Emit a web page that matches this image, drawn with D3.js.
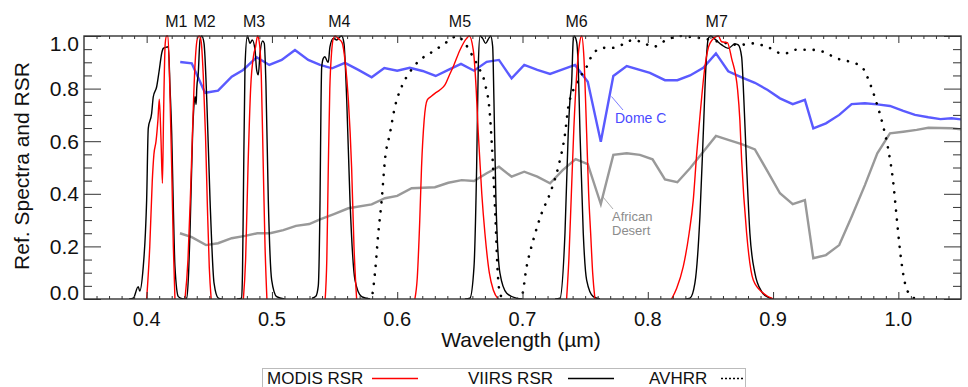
<!DOCTYPE html>
<html>
<head>
<meta charset="utf-8">
<script src="https://cdn.jsdelivr.net/npm/d3@7"></script>
<style>
  body { margin: 0; background: #fff; }
  svg { display: block; font-family: "Liberation Sans", Arial, sans-serif; }
</style>
</head>
<body>
<svg id="chart" width="968" height="387"></svg>
<script>
// band labels above the frame (wavelength of label centre)
const bandNames = ["M1", "M2", "M3", "M4", "M5", "M6", "M7"];
const bandLabelX = [0.4237, 0.4463, 0.4857, 0.5538, 0.6501, 0.7432, 0.8550];

const xTicks = [0.4, 0.5, 0.6, 0.7, 0.8, 0.9, 1.0];
const yTicks = [0, 0.2, 0.4, 0.6, 0.8, 1.0];

// reference spectra [wavelength um, reflectance]
const domeC = [[0.4268,0.901],[0.436,0.896],[0.4466,0.784],[0.457,0.792],[0.4679,0.845],[0.477,0.871],[0.4878,0.919],[0.4979,0.890],[0.5078,0.909],[0.5184,0.947],[0.529,0.909],[0.5384,0.890],[0.548,0.877],[0.5583,0.898],[0.569,0.871],[0.5796,0.843],[0.5897,0.878],[0.600,0.868],[0.610,0.879],[0.6203,0.867],[0.6307,0.848],[0.6408,0.871],[0.6509,0.894],[0.6613,0.868],[0.6714,0.902],[0.6812,0.909],[0.6913,0.839],[0.7014,0.890],[0.7118,0.871],[0.722,0.856],[0.7321,0.873],[0.7419,0.890],[0.7521,0.826],[0.7625,0.598],[0.7725,0.848],[0.7832,0.886],[0.8017,0.860],[0.8137,0.832],[0.8236,0.832],[0.8337,0.850],[0.8443,0.879],[0.8544,0.934],[0.8642,0.866],[0.8749,0.843],[0.8855,0.822],[0.8957,0.795],[0.9055,0.763],[0.9157,0.741],[0.9254,0.757],[0.9321,0.649],[0.9422,0.668],[0.9528,0.700],[0.9627,0.741],[0.9733,0.744],[0.9832,0.740],[0.9933,0.734],[1.0039,0.715],[1.0133,0.700],[1.0239,0.691],[1.0336,0.684],[1.0425,0.687],[1.05,0.683]];
const africanDesert = [[0.4266,0.250],[0.436,0.235],[0.4474,0.205],[0.457,0.212],[0.4679,0.231],[0.4785,0.240],[0.4883,0.250],[0.4985,0.250],[0.5091,0.262],[0.5192,0.278],[0.5298,0.285],[0.5384,0.303],[0.5495,0.323],[0.561,0.345],[0.5796,0.360],[0.5902,0.383],[0.600,0.392],[0.6115,0.421],[0.6301,0.425],[0.6408,0.442],[0.6515,0.452],[0.6613,0.449],[0.6714,0.478],[0.6812,0.503],[0.6913,0.465],[0.7014,0.484],[0.7118,0.465],[0.722,0.440],[0.7321,0.490],[0.7424,0.532],[0.7521,0.513],[0.7625,0.361],[0.7725,0.548],[0.7832,0.554],[0.7937,0.548],[0.8038,0.531],[0.8137,0.455],[0.8236,0.444],[0.8337,0.497],[0.8443,0.560],[0.8544,0.620],[0.8642,0.605],[0.8749,0.589],[0.8855,0.569],[0.8957,0.484],[0.9055,0.402],[0.9157,0.361],[0.9254,0.376],[0.9321,0.155],[0.9422,0.167],[0.9528,0.205],[0.9627,0.313],[0.9733,0.433],[0.9832,0.554],[0.9933,0.630],[1.0039,0.636],[1.0146,0.643],[1.024,0.651],[1.0425,0.649],[1.05,0.645]];

// MODIS RSR bands
const modisB8 = [[0.4000,0],[0.4025,0.2],[0.4045,0.45],[0.4058,0.55],[0.4075,0.6],[0.4090,0.68],[0.4101,0.76],[0.4115,0.6],[0.4126,0.44],[0.4135,0.7],[0.4148,0.97],[0.4158,1.0],[0.4170,1.0],[0.4185,0.8],[0.4200,0.5],[0.4213,0.2],[0.4226,0]];
const modisB9 = [[0.4306,0],[0.4330,0.15],[0.4350,0.40],[0.4365,0.62],[0.4385,0.88],[0.4405,0.99],[0.4420,1.0],[0.4435,0.98],[0.4452,0.85],[0.4470,0.62],[0.4485,0.35],[0.4500,0.12],[0.4515,0]];
const modisB10 = [[0.4772,0],[0.4790,0.15],[0.4809,0.50],[0.4830,0.80],[0.4855,0.93],[0.4870,0.96],[0.4885,1.0],[0.4898,0.98],[0.4915,0.85],[0.4931,0.50],[0.4945,0.2],[0.4960,0]];
const modisB4 = [[0.5425,0],[0.5438,0.15],[0.5450,0.50],[0.5462,0.80],[0.5475,0.93],[0.5490,0.99],[0.5505,1.0],[0.5530,0.99],[0.5560,0.975],[0.5585,0.90],[0.5610,0.757],[0.5636,0.50],[0.5655,0.2],[0.5676,0]];
const modisB1 = [[0.6141,0],[0.6160,0.08],[0.6180,0.30],[0.6194,0.50],[0.6215,0.68],[0.6240,0.757],[0.6270,0.77],[0.6301,0.782],[0.6340,0.795],[0.6381,0.814],[0.6415,0.85],[0.6447,0.883],[0.6501,0.947],[0.6554,0.991],[0.6575,1.0],[0.6607,0.947],[0.6630,0.80],[0.6647,0.630],[0.6675,0.40],[0.6700,0.25],[0.6735,0.10],[0.6767,0.034],[0.6807,0]];
const modisB15 = [[0.7352,0],[0.7370,0.15],[0.7390,0.40],[0.7410,0.65],[0.7432,0.85],[0.7455,0.97],[0.7472,1.0],[0.7490,0.92],[0.7512,0.63],[0.7528,0.40],[0.7544,0.25],[0.7560,0.10],[0.7578,0]];
const modisB2 = [[0.8190,0],[0.8230,0.04],[0.8283,0.123],[0.8330,0.25],[0.8363,0.376],[0.8390,0.55],[0.8416,0.693],[0.8456,0.883],[0.8496,0.972],[0.8563,1.0],[0.8590,0.978],[0.8635,0.975],[0.8669,0.915],[0.8717,0.795],[0.8735,0.68],[0.8749,0.529],[0.8789,0.25],[0.8842,0.072],[0.8922,0.022],[0.9002,0]];

// VIIRS RSR bands
const viirsM1 = [[0.3860,0],[0.3893,0.003],[0.3933,0.047],[0.3945,0.03],[0.3973,0.123],[0.3990,0.25],[0.4000,0.376],[0.4013,0.649],[0.4040,0.706],[0.4053,0.769],[0.4080,0.807],[0.4101,0.871],[0.4120,0.934],[0.4133,0.953],[0.4152,0.957],[0.4173,0.959],[0.4187,0.80],[0.4200,0.63],[0.4213,0.35],[0.4226,0.123],[0.4253,0.009],[0.4290,0]];
const viirsM2 = [[0.4290,0],[0.4319,0.003],[0.4335,0.10],[0.4346,0.25],[0.4367,0.63],[0.4380,0.75],[0.4386,0.769],[0.4395,0.74],[0.4400,0.80],[0.4412,0.858],[0.4426,0.985],[0.4440,1.0],[0.4458,0.972],[0.4480,0.757],[0.4506,0.376],[0.4538,0.06],[0.4572,0.003],[0.4600,0]];
const viirsM3 = [[0.4720,0],[0.4758,0.003],[0.4765,0.10],[0.4772,0.376],[0.4785,0.883],[0.4804,1.0],[0.4825,0.972],[0.4843,0.985],[0.4865,0.947],[0.4878,0.871],[0.4891,0.852],[0.4905,0.934],[0.4926,0.981],[0.4939,0.972],[0.4952,0.82],[0.4971,0.376],[0.4998,0.072],[0.5038,0.009],[0.5100,0]];
const viirsM4 = [[0.5320,0.003],[0.5350,0.01],[0.5370,0.05],[0.5384,0.376],[0.5392,0.757],[0.5397,0.88],[0.5410,0.915],[0.5423,0.921],[0.5440,0.905],[0.5450,0.90],[0.5463,0.959],[0.5490,0.991],[0.5517,0.985],[0.5543,0.997],[0.5557,1.0],[0.5575,0.972],[0.5597,0.757],[0.5623,0.376],[0.5663,0.072],[0.5716,0.009],[0.5783,0]];
const viirsM5 = [[0.6540,0],[0.6580,0.003],[0.6613,0.123],[0.6634,0.503],[0.6647,0.883],[0.6661,1.0],[0.6682,0.991],[0.6706,0.972],[0.6727,0.988],[0.6746,1.0],[0.6762,0.959],[0.6772,0.757],[0.6788,0.376],[0.6820,0.098],[0.6874,0.022],[0.6953,0.003],[0.7000,0]];
const viirsM6 = [[0.7260,0],[0.7299,0.003],[0.7339,0.25],[0.7365,0.63],[0.7379,0.757],[0.7392,0.82],[0.7405,0.985],[0.7413,1.0],[0.7432,0.978],[0.7445,0.883],[0.7459,0.63],[0.7485,0.25],[0.7512,0.072],[0.7565,0.009],[0.7618,0]];
const viirsM7 = [[0.8300,0],[0.8337,0.003],[0.8376,0.06],[0.8416,0.313],[0.8443,0.63],[0.8464,0.883],[0.8483,0.991],[0.8502,1.0],[0.8536,0.988],[0.8590,0.966],[0.8642,0.953],[0.8696,0.970],[0.8722,0.966],[0.8749,0.921],[0.8767,0.757],[0.8789,0.503],[0.8815,0.25],[0.8855,0.098],[0.8909,0.028],[0.8962,0.006],[0.9000,0]];

// AVHRR channels
const avhrrCh1 = [[0.5760,0],[0.5796,0.009],[0.5822,0.098],[0.5849,0.25],[0.5876,0.376],[0.5902,0.529],[0.5942,0.63],[0.5982,0.731],[0.6035,0.807],[0.6102,0.864],[0.6182,0.909],[0.6261,0.934],[0.6341,0.959],[0.6421,0.985],[0.6474,1.0],[0.6541,0.972],[0.6594,0.93],[0.6650,0.88],[0.6700,0.82],[0.6740,0.70],[0.6765,0.50],[0.6785,0.30],[0.6800,0.12],[0.6820,0.02],[0.6850,0]];
const avhrrCh2 = [[0.6960,0],[0.6993,0.009],[0.7033,0.123],[0.7086,0.224],[0.7153,0.326],[0.7220,0.402],[0.7286,0.503],[0.7340,0.63],[0.7366,0.731],[0.7433,0.82],[0.7512,0.883],[0.7565,0.934],[0.7645,0.955],[0.7720,0.955],[0.7800,0.968],[0.7884,0.985],[0.7960,0.975],[0.8044,0.959],[0.8150,0.985],[0.8257,1.0],[0.8360,0.995],[0.8450,0.99],[0.8600,0.975],[0.8736,0.966],[0.8842,0.972],[0.8950,0.959],[0.9082,0.932],[0.9188,0.948],[0.9295,0.948],[0.9401,0.94],[0.9507,0.915],[0.9614,0.902],[0.9707,0.883],[0.9773,0.82],[0.9827,0.744],[0.9880,0.655],[0.9920,0.567],[0.9960,0.44],[0.9986,0.313],[1.0013,0.186],[1.0053,0.06],[1.0106,0.009],[1.0150,0]];

const legendNames = ["MODIS RSR", "VIIRS RSR", "AVHRR"];

const svg = d3.select('#chart');
const pL = 84, pR = 961, pT = 36, pB = 299;
const font = '"Liberation Sans", Arial, sans-serif';

const x = d3.scaleLinear().domain([0.35, 1.05]).range([pL, pR]);
const y = d3.scaleLinear().domain([0, 1]).range([pB, pT]);

svg.append('rect').attr('width', 968).attr('height', 387).attr('fill', '#fff');

svg.append('clipPath').attr('id', 'plot')
  .append('rect').attr('x', pL).attr('y', pT - 1)
  .attr('width', pR - pL).attr('height', pB - pT + 1);

const smooth = d3.line().x(d => x(d[0])).y(d => y(d[1])).curve(d3.curveMonotoneX);
const straight = d3.line().x(d => x(d[0])).y(d => y(d[1]));

const g = svg.append('g').attr('clip-path', 'url(#plot)');

// reference spectra
g.append('path').attr('d', straight(africanDesert))
  .attr('fill', 'none').attr('stroke', '#999').attr('stroke-width', 2.4);
g.append('path').attr('d', straight(domeC))
  .attr('fill', 'none').attr('stroke', '#5a5aff').attr('stroke-width', 2.4);

// AVHRR dotted
[avhrrCh1, avhrrCh2].forEach(ch => {
  g.append('path').attr('d', smooth(ch))
    .attr('fill', 'none').attr('stroke', '#000').attr('stroke-width', 2.6)
    .attr('stroke-dasharray', '0.1,9').attr('stroke-linecap', 'round');
});

// VIIRS
[viirsM1, viirsM2, viirsM3, viirsM4, viirsM5, viirsM6, viirsM7].forEach(b => {
  g.append('path').attr('d', smooth(b))
    .attr('fill', 'none').attr('stroke', '#000').attr('stroke-width', 1.4);
});

// MODIS
[modisB8, modisB9, modisB10, modisB4, modisB1, modisB15, modisB2].forEach(b => {
  g.append('path').attr('d', smooth(b))
    .attr('fill', 'none').attr('stroke', '#ff0000').attr('stroke-width', 1.4);
});

// callouts
svg.append('line').attr('x1', 611.5).attr('y1', 96.5).attr('x2', 623).attr('y2', 110)
  .attr('stroke', '#5a5aff').attr('stroke-width', 0.8);
svg.append('text').attr('x', 615).attr('y', 123).attr('fill', '#4a4aff')
  .attr('font-size', 14).attr('font-family', font).text('Dome C');
svg.append('line').attr('x1', 603).attr('y1', 197).attr('x2', 613).attr('y2', 209)
  .attr('stroke', '#999').attr('stroke-width', 0.8);
svg.append('text').attr('x', 612).attr('y', 221).attr('fill', '#8c8c8c')
  .attr('font-size', 13).attr('font-family', font).text('African');
svg.append('text').attr('x', 612).attr('y', 235).attr('fill', '#8c8c8c')
  .attr('font-size', 13).attr('font-family', font).text('Desert');

// ticks, IDL style pointing inward
const xMinor = d3.range(36, 105).map(i => i / 100).filter(v => Math.round(v * 100) % 10 !== 0);
const yMinor = d3.range(0, 21).map(i => i / 20).filter(v => Math.round(v * 20) % 4 !== 0);

const tickAxis = (axis, scale, vals, size, tx, ty) => {
  const a = svg.append('g').attr('transform', `translate(${tx},${ty})`)
    .call(axis(scale).tickValues(vals).tickSize(size).tickFormat(''));
  a.select('.domain').remove();
  a.selectAll('line').attr('stroke', '#333').attr('stroke-width', 1);
};
tickAxis(d3.axisBottom, x, xMinor, -3, 0, pB);
tickAxis(d3.axisBottom, x, xTicks, -7, 0, pB);
tickAxis(d3.axisTop, x, xMinor, -3, 0, pT);
tickAxis(d3.axisTop, x, xTicks, -7, 0, pT);
tickAxis(d3.axisLeft, y, yMinor, -8, pL, 0);
tickAxis(d3.axisLeft, y, yTicks, -17, pL, 0);
tickAxis(d3.axisRight, y, yMinor, -8, pR, 0);
tickAxis(d3.axisRight, y, yTicks, -17, pR, 0);

svg.append('rect').attr('x', pL).attr('y', pT)
  .attr('width', pR - pL).attr('height', pB - pT)
  .attr('fill', 'none').attr('stroke', '#333').attr('stroke-width', 1.4);

// tick labels
svg.selectAll('.xl').data(xTicks).join('text')
  .attr('x', d => x(d)).attr('y', 326).attr('text-anchor', 'middle')
  .attr('font-size', 20).attr('font-family', font).attr('fill', '#111')
  .text(d => d.toFixed(1));
svg.selectAll('.yl').data(yTicks).join('text')
  .attr('x', 79)
  .attr('y', d => d === 1 ? 43 : d === 0 ? 292 : y(d))
  .attr('dy', '0.36em').attr('text-anchor', 'end')
  .attr('font-size', 21).attr('font-family', font).attr('fill', '#111')
  .text(d => d.toFixed(1));

svg.append('text').attr('x', 521).attr('y', 347).attr('text-anchor', 'middle')
  .attr('font-size', 21).attr('font-family', font).attr('fill', '#111')
  .text('Wavelength (µm)');
svg.append('text').attr('transform', 'translate(29,166) rotate(-90)')
  .attr('text-anchor', 'middle')
  .attr('font-size', 21).attr('font-family', font).attr('fill', '#111')
  .text('Ref. Spectra and RSR');

// band labels
svg.selectAll('.bl').data(bandNames).join('text')
  .attr('x', (d, i) => x(bandLabelX[i])).attr('y', 27).attr('text-anchor', 'middle')
  .attr('font-size', 16).attr('font-family', font).attr('fill', '#111')
  .text(d => d);

// legend
svg.append('rect').attr('x', 262.5).attr('y', 368.5).attr('width', 483).attr('height', 25)
  .attr('fill', '#fff').attr('stroke', '#bbb').attr('stroke-width', 1);
const legX = [267, 468, 649];
const legLine = [[372, 418], [568, 614], [721, 745]];
const legStyle = [['#ff0000', null], ['#000', null], ['#000', '2,2']];
legendNames.forEach((n, i) => {
  svg.append('text').attr('x', legX[i]).attr('y', 384)
    .attr('font-size', 17).attr('font-family', font).attr('fill', '#111').text(n);
  svg.append('line').attr('x1', legLine[i][0]).attr('x2', legLine[i][1])
    .attr('y1', 378.5).attr('y2', 378.5)
    .attr('stroke', legStyle[i][0]).attr('stroke-width', 1.6)
    .attr('stroke-dasharray', legStyle[i][1]);
});
</script>
</body>
</html>
